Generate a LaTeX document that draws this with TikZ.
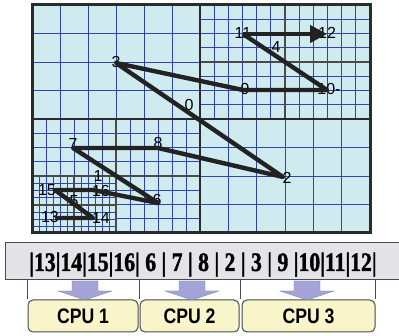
\documentclass[tikz,border=0pt]{standalone}
\usepackage{fontspec}
\setmainfont{Liberation Serif}
\newfontfamily\lblfont{Liberation Sans}
\newfontfamily\barfont[BoldFeatures={FakeBold=1.6}]{Liberation Serif}
\usetikzlibrary{arrows.meta,calc}
\definecolor{cellfill}{HTML}{CFEBF0}
\definecolor{gridblue}{HTML}{2E44A6}
\definecolor{framecol}{HTML}{2B2B2B}
\definecolor{subframe}{HTML}{4A4A4A}
\definecolor{barfill}{HTML}{E4E4E8}
\definecolor{cpufill}{HTML}{F8F5CA}
\definecolor{arrowfill}{HTML}{A4A4D8}
\definecolor{curvecol}{HTML}{222222}

% regular grid of cols x rows cells inside a rectangle
\newcommand\gridblk[6]{%
  \foreach \k in {1,...,#5}{\draw[gridline] ({#1+(#3-#1)*\k/#5},#2) -- ({#1+(#3-#1)*\k/#5},#4);}
  \foreach \k in {1,...,#6}{\draw[gridline] (#1,{#2+(#4-#2)*\k/#6}) -- (#3,{#2+(#4-#2)*\k/#6});}
}

\tikzset{
  gridline/.style={gridblue, line width=0.9pt},
  outerframe/.style={framecol, line width=3pt},
  midframe/.style={framecol, line width=2.6pt},
  innerframe/.style={subframe, line width=1.8pt},
  lbl/.style={font=\lblfont\fontsize{16}{16}\selectfont, inner sep=0pt},
  curveline/.style={curvecol, line width=4.4pt, line join=round},
  barbox/.style={draw=subframe, fill=barfill, line width=1pt, minimum width=397pt, minimum height=37pt, inner sep=0pt},
  cpubox/.style={draw=subframe, fill=cpufill, line width=1pt, rounded corners=5pt, minimum height=32pt, inner sep=0pt,
    font=\lblfont\bfseries\fontsize{21}{21}\selectfont},
  tie/.style={subframe, line width=0.8pt},
  downarrow/.style={fill=arrowfill, draw=arrowfill!80!black, line width=0.4pt},
}

\begin{document}
\begin{tikzpicture}[x=1pt,y=-1pt]
\useasboundingbox (0,0) rectangle (399,336);

% background of the partitioned domain
\fill[cellfill] (32,5) rectangle (370,233);

% coarse blocks
\gridblk{32}{5}{200}{119}{6}{4}
\gridblk{200}{119}{370}{233}{6}{4}
% top-right quadrant, refined once
\gridblk{200}{5}{285}{62}{6}{4}
\gridblk{285}{5}{370}{62}{6}{4}
\gridblk{200}{62}{285}{119}{6}{4}
\gridblk{285}{62}{370}{119}{6}{4}
% bottom-left quadrant, refined once
\gridblk{32}{119}{116}{176}{6}{4}
\gridblk{116}{119}{200}{176}{6}{4}
\gridblk{116}{176}{200}{233}{6}{4}
% bottom-left corner, refined twice
\gridblk{32}{176}{74}{205}{6}{4}
\gridblk{74}{176}{116}{205}{6}{4}
\gridblk{32}{205}{74}{233}{6}{4}
\gridblk{74}{205}{116}{233}{6}{4}

% block borders
\draw[innerframe] (74,176) -- (74,233) (32,205) -- (116,205);
\draw[innerframe] (116,119) -- (116,233) (32,176) -- (200,176);
\draw[innerframe] (285,5) -- (285,119) (200,62) -- (370,62);
\draw[midframe] (200,5) -- (200,233) (32,119) -- (370,119);
\draw[outerframe] (32,5) rectangle (370,233);

% curve points
\coordinate (c13) at (55,218);
\coordinate (c14) at (93,218);
\coordinate (c15) at (55,190);
\coordinate (c16) at (93,190);
\coordinate (c6)  at (158,203);
\coordinate (c7)  at (73,148);
\coordinate (c8)  at (158,148);
\coordinate (c2)  at (283,177);
\coordinate (c3)  at (116,63);
\coordinate (c9)  at (243,90);
\coordinate (c10) at (327,90);
\coordinate (c11) at (243,34);
\coordinate (c12) at (327,34);

% point labels
\node[lbl] (l0)  at (189,105) {0};
\node[lbl] (l1)  at (98,176)  {1};
\node[lbl] (l2)  at (287,178) {2};
\node[lbl] (l3)  at (116,62)  {3};
\node[lbl] (l4)  at (276,47)  {4};
\node[lbl] (l5)  at (74,201)  {5};
\node[lbl] (l6)  at (157,200) {6};
\node[lbl] (l7)  at (73,144)  {7};
\node[lbl] (l8)  at (158,143) {8};
\node[lbl] (l9)  at (245,89)  {9};
\node[lbl] (l10) at (329,89)  {10-};
\node[lbl] (l11) at (243,33)  {11};
\node[lbl] (l12) at (327,33)  {12};
\node[lbl] (l13) at (50,217)  {13};
\node[lbl] (l14) at (101,218) {14};
\node[lbl] (l15) at (47,190)  {15};
\node[lbl] (l16) at (101,191) {16};

% space-filling curve
\draw[curveline] (c13) -- (c14) -- (c15) -- (c16) -- (c6) -- (c7) -- (c8)
  -- (c2) -- (c3) -- (c9) -- (c10) -- (c11);
\draw[curveline, -{Triangle[length=17pt,width=17pt]}] (c11) -- (c12);

% ordered list of cells
\node[barbox] (bar) at (203.5,261.5) {};
\node[anchor=base, inner sep=0pt] (order) at (203,271)
  {\scalebox{0.815}[1]{\barfont\bfseries\fontsize{26.6}{26.6}\selectfont |13|14|15|16| 6 | 7 | 8 | 2 | 3 | 9 |10|11|12|}};

% processors
\node[cpubox, minimum width=110pt] (cpu1) at (83,316)  {\scalebox{0.84}[1]{CPU 1}};
\node[cpubox, minimum width=99pt]  (cpu2) at (189.5,316) {\scalebox{0.84}[1]{CPU 2}};
\node[cpubox, minimum width=133pt] (cpu3) at (308.5,316) {\scalebox{0.84}[1]{CPU 3}};

\coordinate (gap12) at ($(cpu1.north east)!0.5!(cpu2.north west)$);
\coordinate (gap23) at ($(cpu2.north east)!0.5!(cpu3.north west)$);
\draw[tie] (cpu1.north west |- bar.south) -- (cpu1.north west);
\draw[tie] (gap12 |- bar.south) -- (gap12);
\draw[tie] (gap23 |- bar.south) -- (gap23);
\draw[tie] (cpu3.north east |- bar.south) -- (cpu3.north east);

% hand-off arrows
\foreach \cx/\nm in {85/t1,192/t2,307/t3}{
  \coordinate (\nm) at (\cx,300);
  \filldraw[downarrow] (\nm) -- ++(-27,-9) -- ++(14,0) -- ++(0,-10) -- ++(26,0) -- ++(0,10) -- ++(14,0) -- cycle;
}
\end{tikzpicture}
\end{document}
